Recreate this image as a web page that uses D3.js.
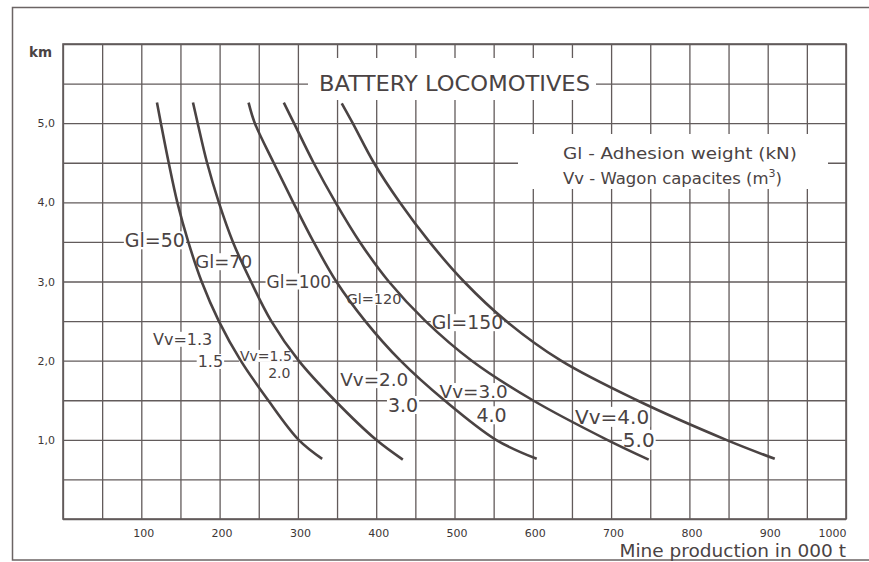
<!DOCTYPE html>
<html>
<head>
<meta charset="utf-8">
<script src="https://cdn.jsdelivr.net/npm/d3@7"></script>
<style>
  html, body { margin: 0; padding: 0; background: #ffffff; }
  svg { display: block; }
  text { font-family: "DejaVu Sans", sans-serif; }
</style>
</head>
<body>
<script>
// ---------------- data ----------------
const xTickValues = [100, 200, 300, 400, 500, 600, 700, 800, 900, 1000];
const yTickValues = [1, 2, 3, 4, 5];
const yTickLabels = ["1,0", "2,0", "3,0", "4,0", "5,0"];

const seriesNames = ["Gl=50", "Gl=70", "Gl=100", "Gl=120", "Gl=150"];
// [mine production (000 t), distance (km)]
const gl50  = [[120,5.26],[125,5.0],[135,4.5],[146,4.0],[160,3.5],[177,3.0],[199,2.5],[227,2.0],[262,1.5],[301,1.0],[331,0.76]];
const gl70  = [[166,5.26],[172,5.0],[184,4.5],[199,4.0],[217,3.5],[240,3.0],[266,2.5],[301,2.0],[347,1.5],[400,1.0],[434,0.75]];
const gl100 = [[237,5.26],[245,5.0],[269,4.5],[294,4.0],[320,3.5],[349,3.0],[386,2.5],[431,2.0],[487,1.5],[553,1.0],[605,0.76]];
const gl120 = [[282,5.26],[295,5.0],[320,4.5],[348,4.0],[379,3.5],[416,3.0],[463,2.5],[522,2.0],[600,1.5],[695,1.0],[748,0.75]];
const gl150 = [[356,5.25],[370,5.0],[397,4.5],[430,4.0],[468,3.5],[512,3.0],[566,2.5],[636,2.0],[733,1.5],[847,1.0],[909,0.76]];
const seriesData = [gl50, gl70, gl100, gl120, gl150];

// curve annotations: text, start x (000 t), centre y (km)
const annotationTexts = ["Gl=50","Gl=70","Gl=100","Gl=120","Gl=150","Vv=1.3","1.5","Vv=1.5","2.0","Vv=2.0","3.0","Vv=3.0","4.0","Vv=4.0","5.0"];
const annotationX = [79, 169, 260, 362, 471, 115, 172, 226, 262, 354, 415, 481, 528, 654, 715];
const annotationY = [3.52, 3.25, 3.0, 2.78, 2.48, 2.27, 1.99, 2.06, 1.85, 1.76, 1.44, 1.61, 1.31, 1.29, 1.0];

const titleText = "BATTERY LOCOMOTIVES";
const legendLines = ["Gl - Adhesion weight (kN)", "Vv - Wagon capacites (m"];
const xAxisTitle = "Mine production in 000 t";
const yAxisTitle = "km";

// ---------------- styles / layout ----------------
const W = 869, H = 562;
const plot = { left: 63, right: 846, top: 44, bottom: 519 };
const ink = "#4a4343";
const gridInk = "#625b5b";
const annotationSizes = [19, 18, 17, 14.5, 18.8, 16, 16, 14, 14, 18.4, 19, 18.4, 19, 20, 20];

const svg = d3.select("body").append("svg").attr("width", W).attr("height", H);

// outer frame of the scanned page
svg.append("rect").attr("x", 12.5).attr("y", 7.5).attr("width", W).attr("height", 552.5)
  .attr("fill", "none").attr("stroke", "#6b6464").attr("stroke-width", 1.5);

const x = d3.scaleLinear().domain([0, 1000]).range([plot.left, plot.right]);
const y = d3.scaleLinear().domain([0, 6]).range([plot.bottom, plot.top]);

// grid via axes
const gGridX = svg.append("g").attr("transform", `translate(0,${plot.bottom})`)
  .call(d3.axisBottom(x).tickValues(d3.range(0, 1001, 50)).tickSize(-(plot.bottom - plot.top)).tickFormat(""));
const gGridY = svg.append("g").attr("transform", `translate(${plot.left},0)`)
  .call(d3.axisLeft(y).tickValues(d3.range(0, 6.01, 0.5)).tickSize(-(plot.right - plot.left)).tickFormat(""));
[gGridX, gGridY].forEach(g => {
  g.select(".domain").remove();
  g.selectAll("line").attr("stroke", gridInk).attr("stroke-width", 1.3);
});

// tick labels
const xAx = svg.append("g").attr("transform", `translate(0,${plot.bottom + 7})`)
  .call(d3.axisBottom(x).tickValues(xTickValues).tickSize(0).tickFormat(d3.format("d")));
xAx.select(".domain").remove();
xAx.selectAll("text").attr("font-family", "DejaVu Sans").attr("font-size", 11).attr("fill", "#3c3636")
  .attr("text-anchor", d => d === 1000 ? "end" : "middle")
  .attr("dx", d => d === 1000 ? 0 : 2);

const yAx = svg.append("g").attr("transform", `translate(${plot.left - 5},0)`)
  .call(d3.axisLeft(y).tickValues(yTickValues).tickSize(0).tickFormat((d, i) => yTickLabels[i]));
yAx.select(".domain").remove();
yAx.selectAll("text").attr("font-family", "DejaVu Sans").attr("font-size", 11).attr("fill", "#3c3636");

// plot frame
svg.append("rect").attr("x", plot.left).attr("y", plot.top)
  .attr("width", plot.right - plot.left).attr("height", plot.bottom - plot.top)
  .attr("fill", "none").attr("stroke", gridInk).attr("stroke-width", 1.6);

// title & legend boxes (they hide the grid)
svg.append("rect").attr("x", 308).attr("y", 58).attr("width", 288).attr("height", 42).attr("fill", "#fff");
svg.append("rect").attr("x", 518).attr("y", 134).attr("width", 310).attr("height", 55).attr("fill", "#fff");

svg.append("text").attr("x", 319).attr("y", 91).attr("font-size", 21.5).attr("fill", ink)
  .attr("textLength", 271).attr("lengthAdjust", "spacingAndGlyphs").text(titleText);

svg.append("text").attr("x", 563).attr("y", 159).attr("font-size", 16.5).attr("fill", ink)
  .attr("textLength", 234).attr("lengthAdjust", "spacingAndGlyphs").text(legendLines[0]);
const l2 = svg.append("text").attr("x", 563).attr("y", 184).attr("font-size", 16.5).attr("fill", ink);
l2.append("tspan").text(legendLines[1]);
l2.append("tspan").attr("dy", -7).attr("font-size", 11).text("3");
l2.append("tspan").attr("dy", 7).text(")");

// annotation backgrounds
const annBg = svg.append("g");
const curvesG = svg.append("g");
const annText = svg.append("g");

const texts = annText.selectAll("text").data(annotationTexts).join("text")
  .attr("x", (d, i) => x(annotationX[i]))
  .attr("y", (d, i) => y(annotationY[i]))
  .attr("dominant-baseline", "central")
  .attr("font-size", (d, i) => annotationSizes[i])
  .attr("fill", ink)
  .text(d => d);

texts.each(function () {
  const b = this.getBBox();
  annBg.append("rect").attr("x", b.x - 1).attr("y", b.y + 2).attr("width", b.width + 2)
    .attr("height", b.height - 4).attr("fill", "#fff");
});

// curves
const line = d3.line().x(d => x(d[0])).y(d => y(d[1])).curve(d3.curveCatmullRom.alpha(0.5));
curvesG.selectAll("path").data(seriesData).join("path")
  .attr("d", line)
  .attr("fill", "none")
  .attr("stroke", ink)
  .attr("stroke-width", 2.6)
  .attr("stroke-linecap", "butt")
  .attr("data-name", (d, i) => seriesNames[i]);

// axis titles
svg.append("text").attr("x", plot.right).attr("y", 557).attr("text-anchor", "end")
  .attr("font-size", 18.5).attr("fill", ink).text(xAxisTitle);
svg.append("text").attr("x", 29).attr("y", 57).attr("font-size", 13.5).attr("font-weight", "bold")
  .attr("fill", ink).text(yAxisTitle);
</script>
</body>
</html>
